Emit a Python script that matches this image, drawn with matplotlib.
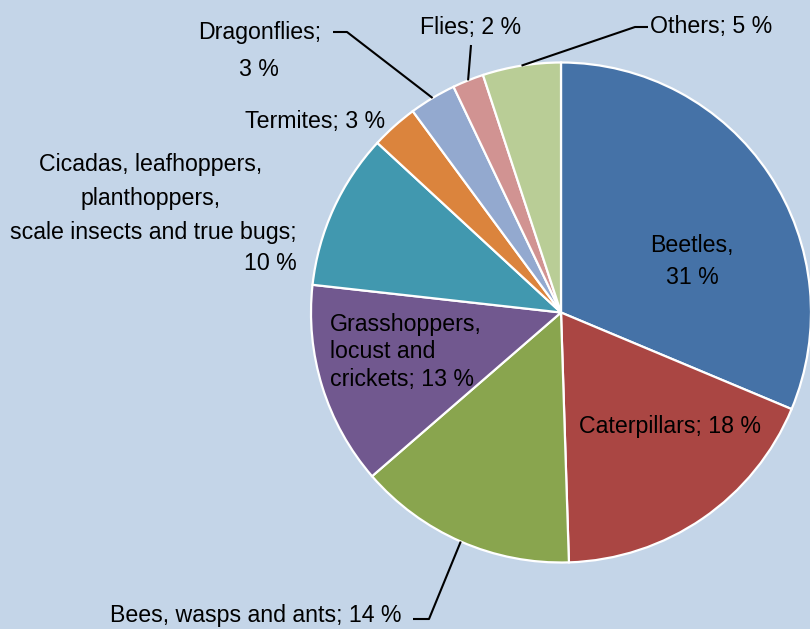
import numpy as np
import matplotlib.pyplot as plt

plt.rcParams['font.family'] = ['Liberation Sans', 'DejaVu Sans']

groups = ['Beetles', 'Caterpillars', 'Bees, wasps and ants',
          'Grasshoppers,\nlocust and\ncrickets',
          'Cicadas, leafhoppers,\nplanthoppers,\nscale insects and true bugs',
          'Termites', 'Dragonflies', 'Flies', 'Others']
shares = [31, 18, 14, 13, 10, 3, 3, 2, 5]
separators = [',\n', '; ', '; ', '; ', ';\n', '; ', ';\n', '; ', '; ']
colours = ['#4572a7', '#aa4643', '#89a54e', '#71588f', '#4198af',
           '#db843d', '#93a9cf', '#d19392', '#b9cd96']

BG = '#c4d5e8'
W, H = 810, 629
CX, CY, R = 561, 312.5, 250


def px(x, y):
    # pixel position (origin top left) -> data coords
    return x, H - y


# per line of each label: x, baseline y, alignment
label_layout = {
    0: [(692, 252, 'center'), (692, 284, 'center')],
    1: [(670, 433, 'center')],
    2: [(402, 622, 'right')],
    3: [(330, 331, 'left'), (330, 358, 'left'), (330, 386, 'left')],
    4: [(151, 171, 'center'), (151, 205, 'center'), (153, 239, 'center'),
        (297, 270, 'right')],
    5: [(385, 128, 'right')],
    6: [(260, 39, 'center'), (259, 76, 'center')],
    7: [(471, 34, 'center')],
    8: [(711, 33, 'center')],
}

# leader lines: start points, the pie edge is added at the end
leaders = {
    2: [(413, 619), (429, 619)],
    6: [(333, 32), (347, 32)],
    7: [(471, 45)],
    8: [(648, 27), (635, 27)],
}

fig = plt.figure(figsize=(8.1, 6.29), dpi=100, facecolor=BG)
ax = fig.add_axes([0, 0, 1, 1])
wedges, _ = ax.pie(shares, colors=colours, startangle=90, counterclock=False,
                   center=px(CX, CY), radius=R,
                   wedgeprops=dict(edgecolor='white', linewidth=1.6))
ax.set_xlim(0, W)
ax.set_ylim(0, H)
ax.set_aspect('equal')
ax.axis('off')

for i, (name, val) in enumerate(zip(groups, shares)):
    lines = (name + separators[i] + f'{val} %').split('\n')
    for line, (x, y, ha) in zip(lines, label_layout[i]):
        ax.text(*px(x, y), line, ha=ha, va='baseline', fontsize=16.7,
                color='black')

for i, pts in leaders.items():
    w = wedges[i]
    mid = np.deg2rad((w.theta1 + w.theta2) / 2)
    edge = (CX + R * np.cos(mid), CY - R * np.sin(mid))
    xs, ys = zip(*[px(x, y) for x, y in pts + [edge]])
    ax.plot(xs, ys, color='black', lw=1.5, solid_capstyle='butt')

fig.savefig('out.png', dpi=100, facecolor=BG)
